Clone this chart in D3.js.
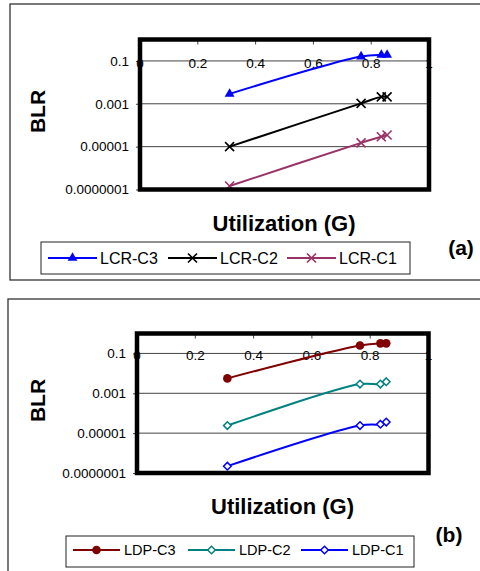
<!DOCTYPE html>
<html>
<head>
<meta charset="utf-8">
<script src="https://cdn.jsdelivr.net/npm/d3@7"></script>
<style>
  body { margin: 0; background: #fff; }
  svg { display: block; font-family: "Liberation Sans", Arial, sans-serif; }
</style>
</head>
<body>
<div id="chart"></div>
<script>
// data
var utilization = [0.31, 0.765, 0.835, 0.855];
var lcrC3 = [0.0029, 0.16, 0.19, 0.19];
var lcrC2 = [0.00001, 0.00105, 0.0021, 0.0021];
var lcrC1 = [0.000000145, 0.000015, 0.000029, 0.000035];
var ldpC3 = [0.0056, 0.25, 0.32, 0.32];
var ldpC2 = [0.000024, 0.0029, 0.0029, 0.0038];
var ldpC1 = [0.00000022, 0.000024, 0.000028, 0.000036];

var xTicks = [0, 0.2, 0.4, 0.6, 0.8, 1];
var xTickLabels = ["0", "0.2", "0.4", "0.6", "0.8", "1"];
var yTicks = [0.1, 0.001, 0.00001, 0.0000001];
var yTickLabels = ["0.1", "0.001", "0.00001", "0.0000001"];

var W = 480, H = 571;

var svg = d3.select("#chart").append("svg")
    .attr("width", W)
    .attr("height", H);

svg.append("rect").attr("width", W).attr("height", H).attr("fill", "#fff");

// marker drawing helpers
var markerPath = {
  triangle: function(g, color) {
    g.append("path").attr("d", d3.symbol().type(d3.symbolTriangle).size(42)())
      .attr("fill", color);
  },
  cross: function(g, color) {
    g.append("path").attr("d", "M-4.5,-4.5L4.5,4.5M-4.5,4.5L4.5,-4.5")
      .attr("stroke", color).attr("stroke-width", 1.6).attr("fill", "none");
  },
  circle: function(g, color) {
    g.append("circle").attr("r", 4.3).attr("fill", color);
  },
  diamond: function(g, color) {
    g.append("path").attr("d", "M0,-3.8L3.8,0L0,3.8L-3.8,0Z")
      .attr("stroke", color).attr("stroke-width", 1.5).attr("fill", "#fff");
  }
};

var drawPanel = function(p) {
  var frame = svg.append("rect")
    .attr("x", p.frame[0]).attr("y", p.frame[1])
    .attr("width", p.frame[2]).attr("height", p.frame[3])
    .attr("fill", "none").attr("stroke", "#333").attr("stroke-width", 1.3);

  var x = d3.scaleLinear().domain([0, 1]).range([p.left, p.right]);
  var y = d3.scaleLog().domain([1e-7, 1]).range([p.bottom, p.top]);

  // gridlines
  svg.append("g").selectAll("line")
    .data(yTicks.slice(0, 3))
    .join("line")
      .attr("x1", p.left).attr("x2", p.right)
      .attr("y1", function(d) { return y(d); })
      .attr("y2", function(d) { return y(d); })
      .attr("stroke", "#444").attr("stroke-width", 1);

  // y axis ticks + labels
  var yAxis = d3.axisLeft(y).tickValues(yTicks).tickSize(4).tickPadding(7)
    .tickFormat(function(d, i) { return yTickLabels[i]; });
  var gy = svg.append("g").attr("transform", "translate(" + p.left + ",0)").call(yAxis);
  gy.select(".domain").remove();
  gy.selectAll("line").attr("stroke", "#444");
  gy.selectAll("text").attr("font-size", 13.5).attr("fill", "#000")
    .attr("font-family", "Liberation Sans, Arial, sans-serif");

  // x axis sits on the 0.1 line, labels hang just under it
  var axisY = y(0.1);
  svg.append("g").selectAll("text")
    .data(xTicks)
    .join("text")
      .attr("x", function(d) { return x(d); })
      .attr("y", axisY + p.xLabelDy)
      .attr("text-anchor", "middle")
      .attr("font-size", 13.5)
      .text(function(d, i) { return xTickLabels[i]; });

  // small tick marks under the top edge
  svg.append("g").selectAll("line")
    .data(xTicks.slice(1, 5))
    .join("line")
      .attr("x1", function(d) { return x(d); })
      .attr("x2", function(d) { return x(d); })
      .attr("y1", p.top).attr("y2", p.top + 5)
      .attr("stroke", "#444");

  // series
  var line = d3.line()
    .x(function(d) { return x(d[0]); })
    .y(function(d) { return y(d[1]); })
    .curve(d3.curveCatmullRom.alpha(0.5));

  p.series.forEach(function(s) {
    var pts = utilization.map(function(u, i) { return [u, s.values[i]]; });
    svg.append("path").datum(pts)
      .attr("d", line)
      .attr("fill", "none")
      .attr("stroke", s.color)
      .attr("stroke-width", 2);
    pts.forEach(function(d) {
      var g = svg.append("g").attr("transform", "translate(" + x(d[0]) + "," + y(d[1]) + ")");
      markerPath[s.marker](g, s.color);
    });
  });

  // thick plot border on top
  svg.append("rect")
    .attr("x", p.left).attr("y", p.top)
    .attr("width", p.right - p.left).attr("height", p.bottom - p.top)
    .attr("fill", "none").attr("stroke", "#000").attr("stroke-width", 4.5);

  // axis titles
  svg.append("text")
    .attr("transform", "translate(" + 45 + "," + p.blrY + ") rotate(-90)")
    .attr("text-anchor", "middle")
    .attr("font-size", 21).attr("font-weight", "bold")
    .text("BLR");
  svg.append("text")
    .attr("x", p.titleX).attr("y", p.titleY)
    .attr("text-anchor", "middle")
    .attr("font-size", 22).attr("font-weight", "bold")
    .text("Utilization (G)");

  // legend
  var lg = p.legend;
  svg.append("rect")
    .attr("x", lg.box[0]).attr("y", lg.box[1])
    .attr("width", lg.box[2]).attr("height", lg.box[3])
    .attr("fill", "#fff").attr("stroke", "#222").attr("stroke-width", 1);
  p.series.forEach(function(s, i) {
    var x0 = lg.starts[i];
    svg.append("line")
      .attr("x1", x0).attr("x2", x0 + lg.len)
      .attr("y1", lg.cy).attr("y2", lg.cy)
      .attr("stroke", s.color).attr("stroke-width", 2);
    var g = svg.append("g").attr("transform", "translate(" + (x0 + lg.len / 2) + "," + lg.cy + ")");
    markerPath[s.marker](g, s.color);
    svg.append("text")
      .attr("x", x0 + lg.len + lg.gap).attr("y", lg.cy + lg.fs * 0.36)
      .attr("font-size", lg.fs)
      .text(s.name);
  });

  svg.append("text")
    .attr("x", p.tag[0]).attr("y", p.tag[1])
    .attr("text-anchor", "middle")
    .attr("font-size", 21).attr("font-weight", "bold")
    .text(p.tag[2]);
};

drawPanel({
  frame: [10, 4, 480, 276],
  left: 140, right: 429, top: 39.5, bottom: 189.5,
  xLabelDy: 7,
  blrY: 111.5, titleX: 284, titleY: 231,
  series: [
    {name: "LCR-C3", values: lcrC3, color: "#0000ff", marker: "triangle"},
    {name: "LCR-C2", values: lcrC2, color: "#000000", marker: "cross"},
    {name: "LCR-C1", values: lcrC1, color: "#993366", marker: "cross"}
  ],
  legend: {box: [41, 242, 369, 32], cy: 258, len: 49, gap: 3, fs: 16, starts: [48, 168, 287]},
  tag: [461, 255, "(a)"]
});

drawPanel({
  frame: [8, 299, 480, 280],
  left: 137, right: 428.5, top: 333.5, bottom: 473,
  xLabelDy: 6.5,
  blrY: 400.5, titleX: 282.5, titleY: 514,
  series: [
    {name: "LDP-C3", values: ldpC3, color: "#800000", marker: "circle"},
    {name: "LDP-C2", values: ldpC2, color: "#008080", marker: "diamond"},
    {name: "LDP-C1", values: ldpC1, color: "#0000ff", marker: "diamond"}
  ],
  legend: {box: [66, 536, 348, 31], cy: 550, len: 47, gap: 4, fs: 14.5, starts: [73, 188, 301]},
  tag: [449, 542, "(b)"]
});
</script>
</body>
</html>
